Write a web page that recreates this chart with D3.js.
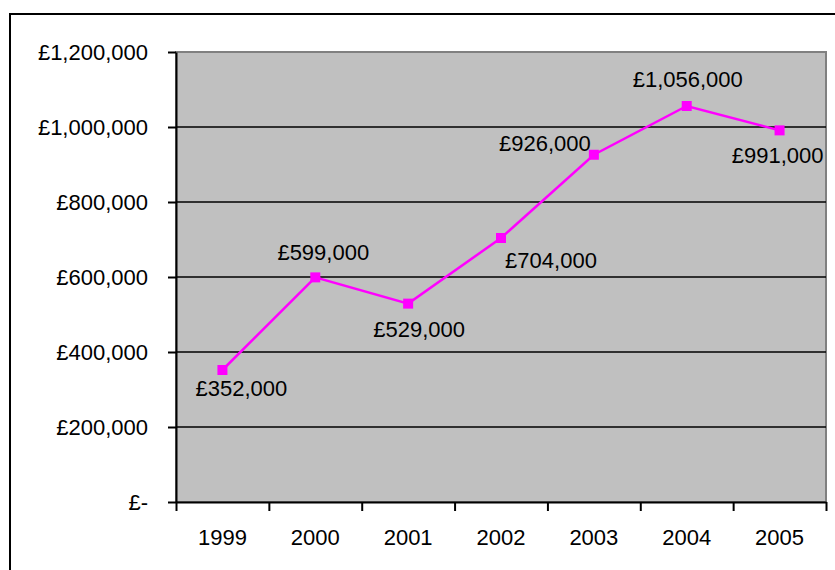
<!DOCTYPE html>
<html>
<head>
<meta charset="utf-8">
<script src="https://cdn.jsdelivr.net/npm/d3@7"></script>
<style>
  body { margin: 0; background: #fff; }
  text { font-family: "Liberation Sans", Arial, sans-serif; fill: #000; }
</style>
</head>
<body>
<div id="chart-area"></div>
<script>
// sales by year, Excel style line chart with data labels

const years = ["1999", "2000", "2001", "2002", "2003", "2004", "2005"];
const sales = [352000, 599000, 529000, 704000, 926000, 1056000, 991000];
const yTicks = [0, 200000, 400000, 600000, 800000, 1000000, 1200000];

// where each data label sits relative to its marker (dx, dy of baseline centre)
const labelNudge = [[19, 26], [8, -17], [11, 33], [50, 30], [-49, -4], [1, -19], [-2, 33]];

let W = 835, H = 570;
let plot = { left: 176, top: 52, right: 826, bottom: 502 };

let svg = d3.select("#chart-area")
  .append("svg")
  .attr("width", W)
  .attr("height", H);

svg.append("rect")
  .attr("width", W).attr("height", H)
  .attr("fill", "#fff");

// outer chart border (runs off the right and bottom)
svg.append("rect")
  .attr("x", 10).attr("y", 14)
  .attr("width", W).attr("height", H)
  .attr("fill", "none")
  .attr("stroke", "#000")
  .attr("stroke-width", 2);

let x = d3.scaleBand().domain(years)
  .range([plot.left, plot.right]).paddingInner(0).paddingOuter(0);
let xEdge = d3.scaleLinear().domain([0, years.length])
  .range([plot.left, plot.right]);
let y = d3.scaleLinear().domain([0, 1200000])
  .range([plot.bottom, plot.top]);

// plot area
svg.append("rect")
  .attr("x", plot.left).attr("y", plot.top)
  .attr("width", plot.right - plot.left)
  .attr("height", plot.bottom - plot.top)
  .attr("fill", "#c0c0c0")
  .attr("stroke", "#808080")
  .attr("stroke-width", 2);

// gridlines
svg.append("g")
  .selectAll("line")
  .data(yTicks.filter(d => d > 0 && d < 1200000))
  .enter().append("line")
  .attr("x1", plot.left).attr("x2", plot.right)
  .attr("y1", d => y(d)).attr("y2", d => y(d))
  .attr("stroke", "#000")
  .attr("stroke-width", 1.5);

// y axis
let fmt = d3.format(",");
let yAxis = d3.axisLeft(y)
  .tickValues(yTicks)
  .tickSize(8)
  .tickPadding(20)
  .tickSizeOuter(0)
  .tickFormat(d => d === 0 ? "£-" : "£" + fmt(d));

let yAxisGroup = svg.append("g")
  .attr("transform", "translate(" + plot.left + ",0)")
  .call(yAxis);
yAxisGroup.select(".domain").attr("stroke", "#000").attr("stroke-width", 2);
yAxisGroup.selectAll(".tick line").attr("stroke", "#000").attr("stroke-width", 2);
yAxisGroup.selectAll(".tick text")
  .attr("font-size", 22)
  .attr("font-family", "Liberation Sans, Arial, sans-serif")
  .attr("fill", "#000");

// x axis: ticks on category edges, labels in the middle
let xAxis = d3.axisBottom(xEdge)
  .tickValues(d3.range(years.length + 1))
  .tickSize(9)
  .tickSizeOuter(0)
  .tickFormat("");

let xAxisGroup = svg.append("g")
  .attr("transform", "translate(0," + plot.bottom + ")")
  .call(xAxis);
xAxisGroup.select(".domain").attr("stroke", "#000").attr("stroke-width", 2);
xAxisGroup.selectAll(".tick line").attr("stroke", "#000").attr("stroke-width", 2);

svg.append("g")
  .selectAll("text")
  .data(years)
  .enter().append("text")
  .attr("x", d => x(d) + x.bandwidth() / 2)
  .attr("y", 545)
  .attr("text-anchor", "middle")
  .attr("font-size", 22)
  .text(d => d);

// line + markers
let pts = years.map((yr, i) => ({ year: yr, value: sales[i], i: i }));
let cx = d => x(d.year) + x.bandwidth() / 2;

svg.append("path")
  .datum(pts)
  .attr("fill", "none")
  .attr("stroke", "#ff00ff")
  .attr("stroke-width", 2.5)
  .attr("d", d3.line().x(cx).y(d => y(d.value)));

svg.append("g")
  .selectAll("rect")
  .data(pts)
  .enter().append("rect")
  .attr("x", d => cx(d) - 5)
  .attr("y", d => y(d.value) - 5)
  .attr("width", 10).attr("height", 10)
  .attr("fill", "#ff00ff");

// data labels
svg.append("g")
  .selectAll("text")
  .data(pts)
  .enter().append("text")
  .attr("x", d => cx(d) + labelNudge[d.i][0])
  .attr("y", d => y(d.value) + labelNudge[d.i][1])
  .attr("text-anchor", "middle")
  .attr("font-size", 22)
  .text(d => "£" + fmt(d.value));
</script>
</body>
</html>
